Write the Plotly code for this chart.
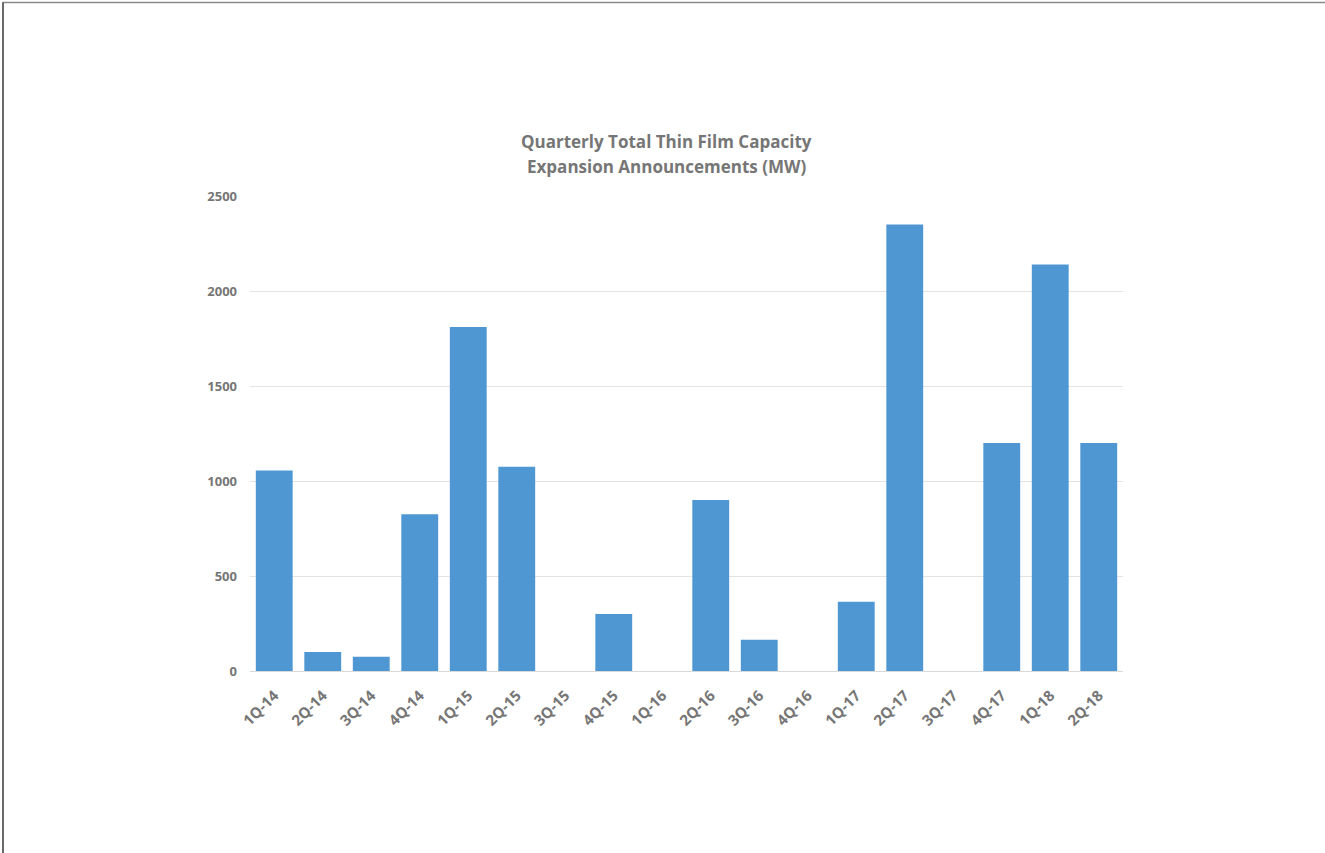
import plotly.graph_objects as go

categories = ["1Q-14", "2Q-14", "3Q-14", "4Q-14", "1Q-15", "2Q-15", "3Q-15", "4Q-15", "1Q-16",
              "2Q-16", "3Q-16", "4Q-16", "1Q-17", "2Q-17", "3Q-17", "4Q-17", "1Q-18", "2Q-18"]
capacity_mw = [1055, 100, 75, 825, 1810, 1075, 0, 300, 0,
               900, 165, 0, 365, 2350, 0, 1200, 2140, 1200]
y_ticks = [0, 500, 1000, 1500, 2000, 2500]
title_lines = ["Quarterly Total Thin Film Capacity", "Expansion Announcements (MW)"]

W, H = 1325, 853
L, R, T, B = 250, 202, 196, 182
pw, ph = W - L - R, H - T - B

fig = go.Figure(go.Bar(x=categories, y=capacity_mw, marker=dict(color="#4f97d2", line=dict(width=0)),
                       width=0.76))

font_fam = "Open Sans, Liberation Sans, sans-serif"
grey = "#767676"
fig.update_layout(
    width=W, height=H,
    margin=dict(l=L, r=R, t=T, b=B),
    paper_bgcolor="white", plot_bgcolor="white",
    showlegend=False,
    bargap=0.24,
)
for i, (txt, yc) in enumerate(zip(title_lines, [141, 167])):
    fig.add_annotation(text=f"<b>{txt}</b>", xref="paper", yref="paper",
                       x=(666 - L) / pw, y=1 + (T - yc) / ph, xanchor="center", yanchor="middle",
                       showarrow=False, font=dict(family=font_fam, size=17, color=grey))

fig.update_xaxes(tickangle=-45, tickfont=dict(family=font_fam, size=15, color=grey, weight="bold"),
                 showgrid=False, showline=True, linecolor="#d9d9d9", linewidth=1, ticks="",
                 ticklabelstandoff=9)
fig.update_yaxes(range=[0, 2500], tickvals=y_ticks, showgrid=True, gridcolor="#e3e3e3",
                 zeroline=False, showline=False, ticks="", ticklabelstandoff=12,
                 tickfont=dict(family=font_fam, size=13, color=grey, weight="bold"))

# outer border (top and left edges visible; right/bottom pushed off-page)
fig.add_shape(type="rect", xref="paper", yref="paper",
              x0=(3 - L) / pw, x1=(W + 30 - L) / pw,
              y0=-(B + 30) / ph, y1=1 + (T - 2.5) / ph,
              line=dict(color="#8a8a8a", width=1.5), fillcolor="rgba(0,0,0,0)")
fig.add_shape(type="line", xref="paper", yref="paper",
              x0=(3 - L) / pw, x1=(3 - L) / pw, y0=-(B + 30) / ph, y1=1 + (T - 2.5) / ph,
              line=dict(color="#555555", width=1.5))

fig.write_html("out.html", config={"displayModeBar": False})
